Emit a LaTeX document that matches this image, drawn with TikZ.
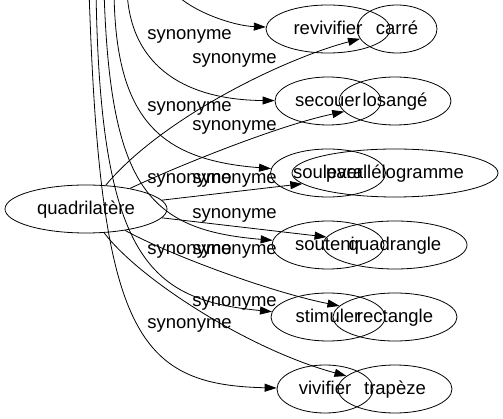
\documentclass[tikz,border=0pt]{standalone}
\usepackage{fontspec}
\setmainfont{Liberation Sans}
\usetikzlibrary{shapes.geometric,arrows.meta}

\begin{document}
\begin{tikzpicture}[x=1pt, y=-1pt, ->, >={Triangle[length=12pt,width=8pt]}, line width=0.8pt,
  font=\fontsize{18.5}{22}\selectfont, node distance=72pt,
  main node/.style={draw, ellipse, inner sep=0pt, minimum height=48pt, text height=14pt, text depth=3pt},
  noun node/.style={main node, node distance=67pt},
  syn/.style={anchor=base west, inner sep=0pt}]
\useasboundingbox (0,0) rectangle (503,419);
\clip (0,0) rectangle (503,419);

\node[main node, minimum width=162pt] (quadrilatere) at (86,209) {quadrilatère};

\node[main node, minimum width=124pt] (revivifier) at (328,29) {revivifier};
\node[main node, minimum width=106pt, below of=revivifier] (secouer)  {secouer};
\node[main node, minimum width=115pt, below of=secouer]    (soulever) {soulever};
\node[main node, minimum width=112pt, below of=soulever]   (soutenir) {soutenir};
\node[main node, minimum width=114pt, below of=soutenir]   (stimuler) {stimuler};
\node[main node, minimum width=96pt,  below of=stimuler, xshift=-3pt] (vivifier) {vivifier};

\node[noun node, minimum width=80pt,  right of=revivifier, xshift=2pt] (carre) {carré};
\node[noun node, minimum width=112pt, right of=secouer]  (losange)         {losangé};
\node[noun node, minimum width=206pt, right of=soulever] (parallelogramme) {parallélogramme};
\node[noun node, minimum width=144pt, right of=soutenir] (quadrangle)      {quadrangle};
\node[noun node, minimum width=124pt, right of=stimuler] (rectangle)       {rectangle};
\node[noun node, minimum width=114pt, right of=vivifier, xshift=3pt] (trapeze) {trapèze};

\coordinate (src1) at (172,-10);
\coordinate (src2) at (127,-10);
\coordinate (src3) at (114,-10);
\coordinate (src4) at (104,-10);
\coordinate (src5) at (96,-10);
\coordinate (src6) at (89,-10);

\draw (src1) .. controls (190,12) and (235,26) .. (revivifier);
\draw (src2) .. controls (130,70) and (190,100) .. (secouer);
\draw (src3) .. controls (115,120) and (160,160) .. (soulever);
\draw (src4) .. controls (110,190) and (150,230) .. (soutenir);
\draw (src5) .. controls (100,260) and (150,300) .. (stimuler);
\draw (src6) .. controls (100,330) and (135,385) .. (vivifier);

\draw (quadrilatere) .. controls (160,120) and (280,60) .. (carre);
\draw (quadrilatere) .. controls (180,165) and (280,125) .. (losange);
\draw (quadrilatere) -- (parallelogramme);
\draw (quadrilatere) -- (quadrangle);
\draw (quadrilatere) .. controls (170,255) and (270,292) .. (rectangle);
\draw (quadrilatere) .. controls (140,280) and (250,350) .. (trapeze);

\node[syn] (syn-secouer)  at (147,40)  {synonyme};
\node[syn] (syn-soulever) at (147,112) {synonyme};
\node[syn] (syn-soutenir) at (147,184) {synonyme};
\node[syn] (syn-stimuler) at (147,255) {synonyme};
\node[syn] (syn-vivifier) at (147,329) {synonyme};

\node[syn] (syn-carre)           at (192,64)  {synonyme};
\node[syn] (syn-losange)         at (192,131) {synonyme};
\node[syn] (syn-parallelogramme) at (192,184) {synonyme};
\node[syn] (syn-quadrangle)      at (192,219) {synonyme};
\node[syn] (syn-rectangle)       at (192,255) {synonyme};
\node[syn] (syn-trapeze)         at (192,307) {synonyme};
\end{tikzpicture}
\end{document}
